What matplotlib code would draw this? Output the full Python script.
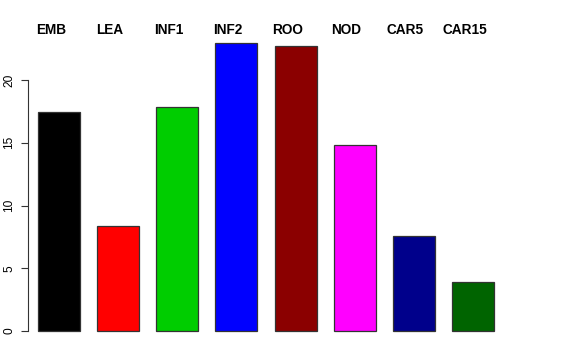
import matplotlib
matplotlib.use("Agg")
import matplotlib.pyplot as plt
import matplotlib.transforms as mtransforms
import numpy as np

plt.rcParams["font.family"] = ["Liberation Sans", "DejaVu Sans"]

categories = ["EMB", "LEA", "INF1", "INF2", "ROO", "NOD", "CAR5", "CAR15"]
values = [17.45, 8.37, 17.85, 22.95, 22.7, 14.82, 7.57, 3.9]
colors = ["#000000", "#FF0000", "#00CD00", "#0000FF", "#8B0000", "#FF00FF", "#00008B", "#006400"]
yticks = [0, 5, 10, 15, 20]

fig = plt.figure(figsize=(5.76, 3.6), dpi=100)
ax = fig.add_axes([0.0491, 0.0486, 0.8254, 0.864])

x = np.arange(len(categories))
ax.bar(x, values, width=0.712, color=colors, edgecolor="#333333", linewidth=0.9)

ax.set_xlim(-0.525, 7.525)
ax.set_ylim(-0.92, 23.88)

for side in ["top", "right", "bottom"]:
    ax.spines[side].set_visible(False)
ax.spines["left"].set_bounds(0, 20)
ax.spines["left"].set_linewidth(0.8)
ax.spines["left"].set_color("#333333")
ax.set_xticks([])
ax.set_yticks(yticks)
ax.set_yticklabels([str(t) for t in yticks], rotation=90, va="center", fontsize=8.6)
ax.tick_params(axis="y", length=5.2, width=0.8, color="#333333", pad=4)

# category labels along the top
trans = mtransforms.blended_transform_factory(ax.transData, fig.transFigure)
for xi, lab in zip(x, categories):
    ax.text(xi - 0.14, 0.906, lab, transform=trans, ha="center", va="baseline",
            fontsize=9.8, fontweight="bold", clip_on=False)

fig.savefig("out.png", dpi=100)
